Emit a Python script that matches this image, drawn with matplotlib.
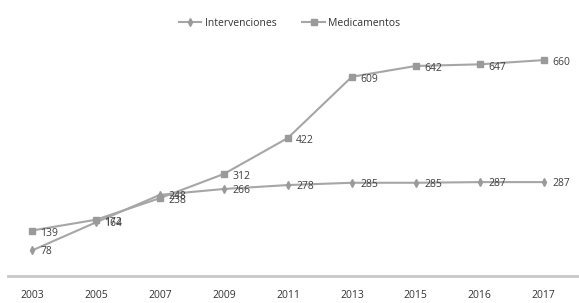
import matplotlib
matplotlib.use("Agg")
import matplotlib.pyplot as plt

years = ["2003", "2005", "2007", "2009", "2011", "2013", "2015", "2016", "2017"]
intervenciones = [78, 164, 248, 266, 278, 285, 285, 287, 287]
medicamentos = [139, 172, 238, 312, 422, 609, 642, 647, 660]

plt.rcParams['font.family'] = ['Open Sans', 'DejaVu Sans']

fig = plt.figure(figsize=(5.79, 3.03), dpi=100)
ax = fig.add_axes([8/579, 1 - 276/303, 1 - 8/579, (276 - 47)/303])

x = list(range(len(years)))
line_c = '#a6a6a6'
ax.plot(x, intervenciones, color=line_c, lw=1.5, marker='d', ms=4,
        mfc='#9a9a9a', mec='#9a9a9a', label='Intervenciones')
ax.plot(x, medicamentos, color=line_c, lw=1.5, marker='s', ms=5,
        mfc='#9a9a9a', mec='#9a9a9a', label='Medicamentos')

for xi, v in zip(x, intervenciones):
    ax.annotate(str(v), (xi, v), xytext=(6, -1), textcoords='offset points',
                ha='left', va='center', fontsize=7.5, color='#404040')
for xi, v in zip(x, medicamentos):
    ax.annotate(str(v), (xi, v), xytext=(6, -2), textcoords='offset points',
                ha='left', va='center', fontsize=7.5, color='#404040')

ax.set_xlim(-0.375, 8.55)
ax.set_ylim(0, 700)
ax.set_xticks(x)
ax.set_xticklabels(years, fontsize=7.5, color='#333333')
ax.tick_params(axis='x', length=0, pad=10)
ax.set_yticks([])
for s in ['top', 'right', 'left']:
    ax.spines[s].set_visible(False)
ax.spines['bottom'].set_color('#c8c8c8')
ax.spines['bottom'].set_linewidth(2)

fig.legend(loc='center', bbox_to_anchor=(0.5, 1 - 23/303), ncol=2, frameon=False,
           fontsize=7.5, handlelength=2.2, columnspacing=2.5, handletextpad=0.3,
           labelcolor='#333333')

fig.savefig('out.png', dpi=100, facecolor='white')
